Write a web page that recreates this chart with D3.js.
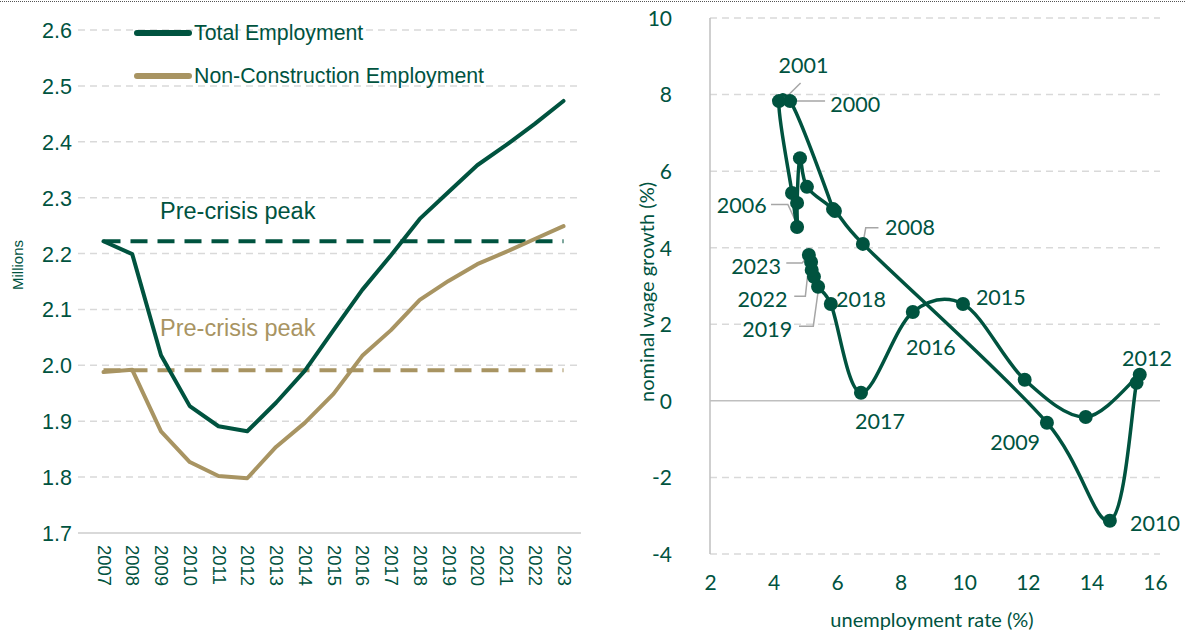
<!DOCTYPE html>
<html><head><meta charset="utf-8">
<script src="https://cdn.jsdelivr.net/npm/d3@7"></script>
<style>
html,body{margin:0;padding:0;background:#fff;}
svg{display:block;}
</style></head>
<body>
<svg id="chart" width="1185" height="633"></svg>
<script>
// ---------- DATA ----------
const years = ["2007","2008","2009","2010","2011","2012","2013","2014","2015","2016","2017","2018","2019","2020","2021","2022","2023"];
const totalEmployment = [2.222,2.199,2.018,1.927,1.891,1.882,1.933,1.990,2.063,2.135,2.197,2.262,2.310,2.358,2.394,2.432,2.473];
const nonConstruction = [1.988,1.992,1.882,1.827,1.802,1.798,1.854,1.897,1.949,2.017,2.063,2.117,2.151,2.181,2.203,2.226,2.249];
const totalPeak = 2.222;
const nonConPeak = 1.991;
const leftTicks = [1.7,1.8,1.9,2.0,2.1,2.2,2.3,2.4,2.5,2.6];

const scYears = [1999,2000,2001,2002,2003,2004,2005,2006,2007,2008,2009,2010,2011,2012,2013,2014,2015,2016,2017,2018,2019,2020,2021,2022,2023];
const unemployment = [5.87,4.52,4.17,4.58,4.74,4.74,4.83,5.05,5.93,6.81,12.6,14.58,15.42,15.52,13.82,11.9,9.96,8.38,6.75,5.8,5.4,5.27,5.2,5.18,5.11];
const wageGrowth = [5.01,7.83,7.83,5.43,4.54,5.17,6.34,5.59,4.96,4.10,-0.57,-3.13,0.47,0.68,-0.42,0.55,2.53,2.32,0.21,2.53,2.98,3.24,3.42,3.63,3.81];
const xTicksR = [2,4,6,8,10,12,14,16];
const yTicksR = [-4,-2,0,2,4,6,8,10];
// labels: text, label position (data units), leader polyline (data units)
const scLabels = [
  {t:"2001", x:4.94, y:8.75, leader:[[4.85,8.3],[4.3,7.85]]},
  {t:"2000", x:6.57, y:7.75, leader:[[5.62,7.83],[4.6,7.83]]},
  {t:"2006", x:3.0,  y:5.1,  leader:[[3.92,5.13],[4.45,5.13],[4.7,4.68]]},
  {t:"2008", x:8.29, y:4.52, leader:[[7.3,4.52],[6.9,4.52],[6.82,4.15]]},
  {t:"2023", x:3.45, y:3.5,  leader:[[4.4,3.6],[4.9,3.6],[5.05,3.75]]},
  {t:"2022", x:3.65, y:2.65, leader:[[4.65,2.73],[5.0,2.73],[5.1,3.5]]},
  {t:"2019", x:3.8,  y:1.87, leader:[[4.8,1.95],[5.25,1.95],[5.4,2.85]]},
  {t:"2018", x:6.75, y:2.65, leader:null},
  {t:"2016", x:8.95, y:1.4,  leader:null},
  {t:"2017", x:7.35, y:-0.55, leader:null},
  {t:"2015", x:11.15, y:2.7, leader:null},
  {t:"2009", x:11.6, y:-1.1, leader:null},
  {t:"2010", x:16.0, y:-3.2, leader:null},
  {t:"2012", x:15.75, y:1.1, leader:null}
];

// ---------- STYLE ----------
const GREEN = "#00533f";
const TAN = "#a89462";
const GRID = "#d9d9d9";
const svg = d3.select("#chart");

// top dotted border
svg.append("line").attr("x1",0).attr("x2",1185).attr("y1",1.5).attr("y2",1.5)
  .attr("stroke","#555").attr("stroke-width",1).attr("stroke-dasharray","1,1");

// ---------- LEFT CHART ----------
const lf = "'Liberation Sans', Arial, sans-serif";
const xL = d3.scalePoint().domain(years).range([103.5, 563.5]);
const yL = d3.scaleLinear().domain([1.7, 2.6]).range([533, 30]);
const L = svg.append("g");

// gridlines
L.append("g").selectAll("line").data(leftTicks.filter(d=>d>1.7)).join("line")
  .attr("x1",78).attr("x2",580).attr("y1",d=>yL(d)).attr("y2",d=>yL(d))
  .attr("stroke",GRID).attr("stroke-width",1.5).attr("stroke-dasharray","7,5");
L.append("line").attr("x1",78).attr("x2",581).attr("y1",yL(1.7)).attr("y2",yL(1.7))
  .attr("stroke",GRID).attr("stroke-width",2);

// y axis labels
const yAxL = d3.axisLeft(yL).tickValues(leftTicks).tickFormat(d3.format(".1f")).tickSize(0).tickPadding(0);
const gyL = L.append("g").attr("transform","translate(72,0)").call(yAxL);
gyL.select(".domain").remove();
gyL.selectAll("text").attr("font-family",lf).attr("font-size",21.5).attr("fill",GREEN).attr("dy","0.35em");

// x axis labels (rotated)
const xAxL = d3.axisBottom(xL).tickSize(0).tickPadding(0);
const gxL = L.append("g").attr("transform","translate(0,545)").call(xAxL);
gxL.select(".domain").remove();
gxL.selectAll("text").attr("font-family",lf).attr("font-size",18.5).attr("fill",GREEN)
  .attr("transform","rotate(90)").attr("text-anchor","start").attr("x",0).attr("y",0).attr("dy","0.35em").attr("dx",0);

// "Millions"
L.append("text").attr("transform","translate(23,265) rotate(-90)").attr("text-anchor","middle")
  .attr("font-family",lf).attr("font-size",15).attr("fill",GREEN).text("Millions");

// peak lines
L.append("line").attr("x1",xL("2007")).attr("x2",xL("2023")).attr("y1",yL(totalPeak)).attr("y2",yL(totalPeak))
  .attr("stroke",GREEN).attr("stroke-width",4).attr("stroke-dasharray","17,10");
L.append("line").attr("x1",xL("2007")).attr("x2",xL("2023")).attr("y1",yL(nonConPeak)).attr("y2",yL(nonConPeak))
  .attr("stroke",TAN).attr("stroke-width",4).attr("stroke-dasharray","17,10");

const lineL = d3.line().x((d,i)=>xL(years[i])).y(d=>yL(d));
L.append("path").datum(nonConstruction).attr("d",lineL).attr("fill","none")
  .attr("stroke",TAN).attr("stroke-width",4).attr("stroke-linejoin","round").attr("stroke-linecap","round");
L.append("path").datum(totalEmployment).attr("d",lineL).attr("fill","none")
  .attr("stroke",GREEN).attr("stroke-width",4).attr("stroke-linejoin","round").attr("stroke-linecap","round");

// annotations
L.append("text").attr("x",160).attr("y",219).attr("font-family",lf).attr("font-size",23.5).attr("fill",GREEN).text("Pre-crisis peak");
L.append("text").attr("x",160).attr("y",336).attr("font-family",lf).attr("font-size",23.5).attr("fill",TAN).text("Pre-crisis peak");

// legend
const leg = [{t:"Total Employment",c:GREEN,y:33},{t:"Non-Construction Employment",c:TAN,y:76}];
const lg = L.append("g").selectAll("g").data(leg).join("g");
lg.append("line").attr("x1",137).attr("x2",189).attr("y1",d=>d.y).attr("y2",d=>d.y)
  .attr("stroke",d=>d.c).attr("stroke-width",6).attr("stroke-linecap","round");
lg.append("text").attr("x",194).attr("y",d=>d.y).attr("dy","0.35em").attr("font-family",lf).attr("font-size",21.3)
  .attr("fill",GREEN).text(d=>d.t);

// ---------- RIGHT CHART ----------
const rf = "Lato, 'Open Sans', sans-serif";
const xR = d3.scaleLinear().domain([2,16]).range([710,1155]);
const yR = d3.scaleLinear().domain([-4,10]).range([554,18]);
const R = svg.append("g");

R.append("g").selectAll("line").data(yTicksR.filter(d=>d!==0)).join("line")
  .attr("x1",710).attr("x2",1160).attr("y1",d=>yR(d)).attr("y2",d=>yR(d))
  .attr("stroke",GRID).attr("stroke-width",1.5).attr("stroke-dasharray","7,5");
R.append("line").attr("x1",710).attr("x2",1160).attr("y1",yR(0)).attr("y2",yR(0))
  .attr("stroke","#bfbfbf").attr("stroke-width",1.5);
R.append("line").attr("x1",710).attr("x2",710).attr("y1",yR(10)).attr("y2",yR(-4))
  .attr("stroke","#bfbfbf").attr("stroke-width",1.5);

const gyR = R.append("g").attr("transform","translate(672,0)")
  .call(d3.axisLeft(yR).tickValues(yTicksR).tickSize(0).tickPadding(0).tickFormat(d=>String(d)));
gyR.select(".domain").remove();
gyR.selectAll("text").attr("font-family",rf).attr("font-size",21).attr("fill",GREEN).attr("dy","0.35em");

const gxR = R.append("g").attr("transform","translate(0,575)")
  .call(d3.axisBottom(xR).tickValues(xTicksR).tickSize(0).tickPadding(0).tickFormat(d=>String(d)));
gxR.select(".domain").remove();
gxR.selectAll("text").attr("font-family",rf).attr("font-size",21).attr("fill",GREEN).attr("dy","0.71em");

R.append("text").attr("x",932).attr("y",627).attr("text-anchor","middle").attr("font-family",rf)
  .attr("font-size",20).attr("fill",GREEN).text("unemployment rate (%)");
R.append("text").attr("transform","translate(654,292) rotate(-90)").attr("text-anchor","middle").attr("font-family",rf)
  .attr("font-size",20).attr("fill",GREEN).text("nominal wage growth (%)");

// leader lines
const leaderLine = d3.line().x(d=>xR(d[0])).y(d=>yR(d[1]));
R.append("g").selectAll("path").data(scLabels.filter(d=>d.leader)).join("path")
  .attr("d",d=>leaderLine(d.leader)).attr("fill","none").attr("stroke","#a6a6a6").attr("stroke-width",1.5);

// curve
const pts = scYears.map((y,i)=>[unemployment[i],wageGrowth[i]]);
const curve = d3.line().x(d=>xR(d[0])).y(d=>yR(d[1])).curve(d3.curveCatmullRom.alpha(0.2));
R.append("path").datum(pts).attr("d",curve).attr("fill","none").attr("stroke",GREEN).attr("stroke-width",3.5);
R.append("g").selectAll("circle").data(pts).join("circle")
  .attr("cx",d=>xR(d[0])).attr("cy",d=>yR(d[1])).attr("r",7).attr("fill",GREEN);

// labels
R.append("g").selectAll("text").data(scLabels).join("text")
  .attr("x",d=>xR(d.x)).attr("y",d=>yR(d.y)).attr("text-anchor","middle").attr("dy","0.35em")
  .attr("font-family",rf).attr("font-size",21.5).attr("fill",GREEN).text(d=>d.t);
</script>
</body></html>
